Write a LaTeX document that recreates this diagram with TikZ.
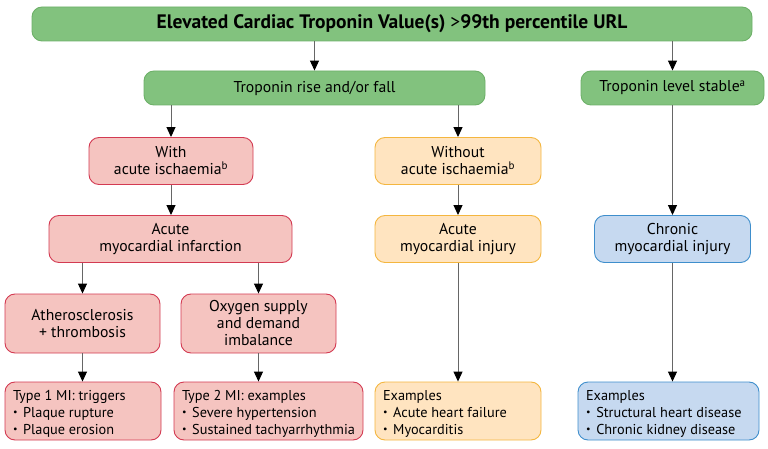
\documentclass[tikz,border=0pt]{standalone}
\usepackage{fontspec}
\setmainfont{PT Sans}
\usetikzlibrary{arrows.meta}
\definecolor{gfill}{HTML}{82C27E}
\definecolor{gline}{HTML}{6DB068}
\definecolor{pfill}{HTML}{F5C4C0}
\definecolor{pline}{HTML}{D33A52}
\definecolor{ofill}{HTML}{FFE4C0}
\definecolor{oline}{HTML}{F4B63F}
\definecolor{bfill}{HTML}{C6D9F0}
\definecolor{bline}{HTML}{3E8ECC}
\newcommand{\bul}{\raisebox{0.12em}{\scalebox{0.7}{•}}\hspace{0.4em}}
\begin{document}
\begin{tikzpicture}[x=1pt,y=-1pt,
  box/.style={draw, line width=0.9pt, rounded corners=10pt, align=center, inner xsep=4pt, inner ysep=0pt,
    font=\fontsize{15.7}{17}\selectfont},
  gbox/.style={box, fill=gfill, draw=gline},
  pbox/.style={box, fill=pfill, draw=pline},
  obox/.style={box, fill=ofill, draw=oline},
  bbox/.style={box, fill=bfill, draw=bline},
  exbox/.style={align=flush left, inner xsep=8pt, font=\fontsize{14.3}{17}\selectfont,
    execute at begin node=\rule{0pt}{16pt}},
  arr/.style={draw=black!60, line width=1pt, -{Triangle[length=10pt,width=9pt,color=black]}}
]
\useasboundingbox (0,0) rectangle (768,449);

\node[gbox, minimum width=720pt, minimum height=34pt, font=\fontsize{19.5}{20}\selectfont\bfseries] (top) at (392,24)
  {Elevated Cardiac Troponin Value(s) {\mdseries>}99th percentile URL};
\node[gbox, minimum width=341pt, minimum height=34pt] (rise) at (314.5,88) {Troponin rise and/or fall};
\node[gbox, minimum width=183pt, minimum height=34pt] (stable) at (672.5,88) {Troponin level stable\textsuperscript{a}};

\node[pbox, minimum width=164pt, minimum height=47pt] (with) at (171,161) {With\\acute ischaemia\textsuperscript{b}};
\node[obox, minimum width=166pt, minimum height=47pt] (without) at (458,161) {Without\\acute ischaemia\textsuperscript{b}};

\node[pbox, minimum width=243pt, minimum height=47pt] (ami) at (170.5,239) {Acute\\myocardial infarction};
\node[obox, minimum width=166pt, minimum height=47pt] (ainj) at (458,239) {Acute\\myocardial injury};
\node[bbox, minimum width=156pt, minimum height=47pt] (cinj) at (672.5,239) {Chronic\\myocardial injury};

\node[pbox, minimum width=155pt, minimum height=59pt] (ath) at (82.5,323.5) {Atherosclerosis\\+ thrombosis};
\node[pbox, minimum width=155pt, minimum height=59pt] (oxy) at (258.5,323.5) {Oxygen supply\\and demand\\imbalance};

\node[pbox, exbox, minimum height=58pt, text width=140pt] (t1) at (83,411)
  {Type 1 MI: triggers\\\bul Plaque rupture\\\bul Plaque erosion};
\node[pbox, exbox, minimum height=58pt, text width=173pt] (t2) at (268.5,411)
  {Type 2 MI: examples\\\bul Severe hypertension\\\bul Sustained tachyarrhythmia};
\node[obox, exbox, minimum height=58pt, text width=150pt] (ex1) at (458,411)
  {Examples\\\bul Acute heart failure\\\bul Myocarditis};
\node[bbox, exbox, minimum height=58pt, text width=165pt] (ex2) at (668.5,411)
  {Examples\\\bul Structural heart disease\\\bul Chronic kidney disease};

\draw[arr] (top.south -| rise) -- (rise);
\draw[arr] (top.south -| stable) -- (stable);
\draw[arr] (rise.south -| with) -- (with);
\draw[arr] (rise.south -| without) -- (without);
\draw[arr] (stable) -- (cinj);
\draw[arr] (with) -- (ami.north -| with);
\draw[arr] (without) -- (ainj);
\draw[arr] (ami.south -| ath) -- (ath);
\draw[arr] (ami.south -| oxy) -- (oxy);
\draw[arr] (ath) -- (ath.south |- t1.north);
\draw[arr] (oxy) -- (oxy.south |- t2.north);
\draw[arr] (ainj) -- (ex1.north -| ainj);
\draw[arr] (cinj) -- (cinj.south |- ex2.north);
\end{tikzpicture}
\end{document}
